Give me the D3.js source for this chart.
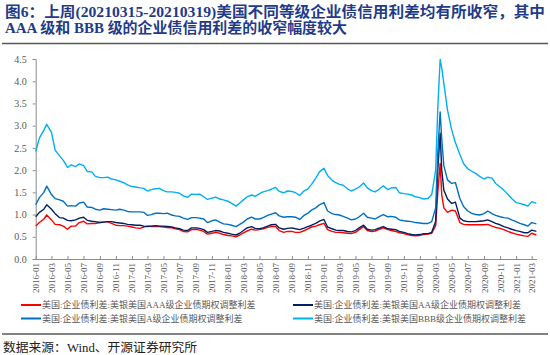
<!DOCTYPE html>
<html><head><meta charset="utf-8">
<script src="https://cdn.jsdelivr.net/npm/d3@7"></script>
<style>
body{margin:0;background:#fff;}
svg{display:block;}
</style></head>
<body>
<script>
// ---- data ----
const dates = [
 "2016-01-01","2016-01-15","2016-02-01","2016-02-12","2016-03-01","2016-03-15","2016-04-01","2016-04-15","2016-05-01","2016-05-15","2016-06-01","2016-06-15","2016-07-01","2016-07-15","2016-08-01","2016-08-15","2016-09-01","2016-09-15","2016-10-01","2016-10-15","2016-11-01","2016-11-15","2016-12-01","2016-12-15",
 "2017-01-01","2017-01-15","2017-02-01","2017-02-15","2017-03-01","2017-03-15","2017-04-01","2017-04-15","2017-05-01","2017-05-15","2017-06-01","2017-06-15","2017-07-01","2017-07-15","2017-08-01","2017-08-15","2017-09-01","2017-09-15","2017-10-01","2017-10-15","2017-11-01","2017-11-15","2017-12-01","2017-12-15",
 "2018-01-01","2018-01-15","2018-02-01","2018-02-15","2018-03-01","2018-03-15","2018-04-01","2018-04-15","2018-05-01","2018-05-15","2018-06-01","2018-06-15","2018-07-01","2018-07-15","2018-08-01","2018-08-15","2018-09-01","2018-09-15","2018-10-01","2018-10-15","2018-11-01","2018-11-15","2018-12-01","2018-12-15",
 "2019-01-01","2019-01-15","2019-02-01","2019-02-15","2019-03-01","2019-03-15","2019-04-01","2019-04-15","2019-05-01","2019-05-15","2019-06-01","2019-06-15","2019-07-01","2019-07-15","2019-08-01","2019-08-15","2019-09-01","2019-09-15","2019-10-01","2019-10-15","2019-11-01","2019-11-15","2019-12-01","2019-12-15",
 "2020-01-01","2020-01-15","2020-02-01","2020-02-15","2020-03-01","2020-03-09","2020-03-18","2020-03-24","2020-04-01","2020-04-15","2020-05-01","2020-05-15","2020-06-01","2020-06-15","2020-07-01","2020-07-15","2020-08-01","2020-08-15","2020-09-01","2020-09-15","2020-10-01","2020-10-15","2020-11-01","2020-11-15","2020-12-01","2020-12-15",
 "2021-01-01","2021-01-15","2021-02-01","2021-02-15","2021-03-01","2021-03-19"
];
const aaa = [
 0.74,0.82,0.90,0.99,0.88,0.78,0.77,0.74,0.67,0.74,0.74,0.82,0.85,0.79,0.80,0.80,0.82,0.83,0.84,0.80,0.76,0.75,0.75,0.74,
 0.72,0.70,0.69,0.72,0.74,0.73,0.73,0.73,0.72,0.71,0.70,0.68,0.66,0.62,0.61,0.66,0.67,0.65,0.62,0.56,0.58,0.60,0.58,0.55,
 0.53,0.52,0.50,0.54,0.59,0.63,0.67,0.65,0.66,0.68,0.71,0.73,0.73,0.64,0.60,0.62,0.62,0.60,0.60,0.63,0.68,0.72,0.74,0.77,
 0.80,0.66,0.62,0.60,0.60,0.59,0.58,0.57,0.60,0.66,0.73,0.64,0.62,0.63,0.67,0.70,0.66,0.64,0.62,0.59,0.57,0.55,0.53,0.52,
 0.53,0.55,0.56,0.58,0.75,1.50,2.15,1.45,1.15,1.05,1.10,1.08,0.82,0.78,0.77,0.77,0.77,0.77,0.77,0.78,0.74,0.71,0.69,0.66,0.62,0.59,
 0.56,0.54,0.52,0.51,0.58,0.54
];
const aa = [
 0.95,1.05,1.12,1.22,1.12,1.02,0.93,0.92,0.87,0.86,0.88,0.92,0.94,0.87,0.85,0.84,0.82,0.83,0.84,0.84,0.82,0.81,0.80,0.78,
 0.77,0.76,0.76,0.74,0.73,0.74,0.75,0.74,0.74,0.73,0.72,0.70,0.68,0.65,0.64,0.70,0.70,0.69,0.66,0.60,0.62,0.64,0.63,0.60,
 0.58,0.56,0.54,0.58,0.64,0.70,0.73,0.69,0.68,0.70,0.74,0.77,0.78,0.70,0.67,0.69,0.70,0.68,0.66,0.69,0.73,0.76,0.80,0.85,
 0.89,0.72,0.68,0.65,0.64,0.64,0.62,0.61,0.64,0.70,0.76,0.67,0.65,0.66,0.70,0.73,0.68,0.67,0.66,0.62,0.60,0.57,0.55,0.54,
 0.55,0.57,0.57,0.60,0.85,2.00,2.83,2.00,1.55,1.35,1.25,1.28,0.92,0.86,0.84,0.84,0.84,0.85,0.86,0.88,0.84,0.80,0.77,0.73,0.70,0.67,
 0.64,0.62,0.59,0.59,0.65,0.62
];
const a = [
 1.22,1.38,1.50,1.64,1.45,1.36,1.33,1.30,1.19,1.20,1.19,1.26,1.28,1.17,1.16,1.12,1.10,1.13,1.12,1.11,1.10,1.12,1.10,1.07,
 1.06,1.06,1.06,1.05,0.98,1.00,1.03,1.03,1.02,1.03,0.99,0.97,0.96,0.92,0.89,0.93,0.93,0.92,0.90,0.82,0.86,0.88,0.83,0.79,
 0.78,0.76,0.73,0.78,0.83,0.90,0.94,0.90,0.90,0.93,0.98,1.01,1.04,0.97,0.94,0.95,0.95,0.94,0.89,0.97,1.03,1.10,1.15,1.22,
 1.27,1.08,1.02,1.00,0.99,0.96,0.92,0.88,0.90,0.95,1.03,0.94,0.92,0.90,0.96,1.00,0.95,0.96,0.94,0.88,0.86,0.85,0.84,0.82,
 0.81,0.80,0.80,0.84,1.15,2.40,3.31,2.70,2.10,1.78,1.70,1.72,1.36,1.18,1.08,1.03,1.00,0.99,1.02,1.08,1.02,0.98,0.95,0.93,0.92,0.88,
 0.84,0.80,0.77,0.74,0.82,0.79
];
const bbb = [
 2.42,2.72,2.90,3.03,2.85,2.45,2.32,2.22,2.06,2.12,2.08,2.14,2.10,1.97,1.96,1.86,1.83,1.83,1.84,1.80,1.78,1.75,1.72,1.67,
 1.63,1.62,1.60,1.59,1.53,1.56,1.58,1.59,1.54,1.51,1.51,1.50,1.48,1.42,1.39,1.46,1.45,1.46,1.40,1.34,1.37,1.39,1.35,1.33,
 1.30,1.25,1.19,1.26,1.33,1.40,1.44,1.41,1.47,1.51,1.54,1.57,1.61,1.52,1.49,1.53,1.52,1.49,1.43,1.52,1.58,1.68,1.82,1.96,
 2.04,1.88,1.77,1.72,1.68,1.66,1.58,1.53,1.57,1.62,1.71,1.60,1.54,1.51,1.58,1.65,1.56,1.60,1.61,1.49,1.47,1.46,1.44,1.40,
 1.38,1.35,1.36,1.45,2.00,3.40,4.49,4.30,3.95,3.35,2.90,2.62,2.35,2.15,2.03,1.98,1.92,1.86,1.80,1.84,1.82,1.70,1.62,1.55,1.45,1.36,
 1.27,1.25,1.22,1.19,1.29,1.25
];
const seriesNames = [
 "美国:企业债利差:美银美国AAA级企业债期权调整利差",
 "美国:企业债利差:美银美国AA级企业债期权调整利差",
 "美国:企业债利差:美银美国A级企业债期权调整利差",
 "美国:企业债利差:美银美国BBB级企业债期权调整利差"
];
const yTicks = [0,0.5,1.0,1.5,2.0,2.5,3.0,3.5,4.0,4.5];
const titleLines = ["图6：上周(20210315-20210319)美国不同等级企业债信用利差均有所收窄，其中",
                    "AAA 级和 BBB 级的企业债信用利差的收窄幅度较大"];
const sourceText = "数据来源：Wind、开源证券研究所";

// ---- drawing ----
const W = 550, H = 355;
const colors = ["#FF0000", "#002060", "#0070C0", "#00B0F0"];
const valueSets = [aaa, aa, a, bbb];
const FONT = "'Liberation Serif','Noto Sans CJK SC',serif";
const parse = d3.timeParse("%Y-%m-%d");
const dts = dates.map(parse);

const svg = d3.select("body").append("svg").attr("width", W).attr("height", H);

// title
svg.append("text").attr("x", 5).attr("y", 17)
  .attr("font-family", FONT).attr("font-weight", "bold").attr("font-size", 14.5)
  .attr("fill", "#1F3C88").attr("textLength", 540).attr("lengthAdjust", "spacingAndGlyphs")
  .text(titleLines[0]);
svg.append("text").attr("x", 5).attr("y", 32.5)
  .attr("font-family", FONT).attr("font-weight", "bold").attr("font-size", 14.5)
  .attr("fill", "#1F3C88").attr("textLength", 342).attr("lengthAdjust", "spacingAndGlyphs")
  .text(titleLines[1]);
svg.append("line").attr("x1", 2).attr("x2", 548).attr("y1", 43.5).attr("y2", 43.5)
  .attr("stroke", "#595959").attr("stroke-width", 1.6);

// scales
const x = d3.scaleTime().domain([parse("2016-01-01"), parse("2021-03-19")]).range([35.7, 536.4]);
const y = d3.scaleLinear().domain([0, 4.5]).range([259, 59]);

// y axis
const yAxis = d3.axisLeft(y).tickValues(yTicks).tickFormat(d3.format(".1f")).tickSize(3).tickPadding(6);
const gy = svg.append("g").attr("transform", "translate(35.7,0)").call(yAxis);
gy.select(".domain").attr("stroke", "#8c8c8c");
gy.selectAll(".tick line").attr("stroke", "#8c8c8c");
gy.selectAll(".tick text").attr("font-family", FONT).attr("font-size", 10).attr("fill", "#595959");

// x axis
const xTicks = d3.timeMonth.every(2).range(parse("2016-01-01"), parse("2021-03-02"));
const xAxis = d3.axisBottom(x).tickValues(xTicks).tickFormat(d3.timeFormat("%Y-%m")).tickSize(-3).tickSizeOuter(0);
const gx = svg.append("g").attr("transform", "translate(0,259)").call(xAxis);
gx.select(".domain").attr("stroke", "#8c8c8c");
gx.selectAll(".tick line").attr("stroke", "#8c8c8c");
gx.selectAll(".tick text")
  .attr("font-family", FONT).attr("font-size", 9).attr("fill", "#595959")
  .attr("text-anchor", "end").attr("transform", "rotate(-90)")
  .attr("x", -4).attr("y", 0).attr("dy", "0.33em");

// lines
const line = d3.line().x((d, i) => x(dts[i])).y(d => y(d));
valueSets.forEach((vals, k) => {
  svg.append("path").datum(vals).attr("d", line)
    .attr("fill", "none").attr("stroke", colors[k]).attr("stroke-width", 1.4)
    .attr("stroke-linejoin", "round");
});

// legend
const legendPos = [[21, 305], [293, 305], [21, 318.5], [293, 318.5]];
seriesNames.forEach((name, k) => {
  const [lx, ly] = legendPos[k];
  svg.append("line").attr("x1", lx).attr("x2", lx + 20).attr("y1", ly).attr("y2", ly)
    .attr("stroke", colors[k]).attr("stroke-width", 2);
  svg.append("text").attr("x", lx + 21).attr("y", ly).attr("dy", "0.35em")
    .attr("font-family", FONT).attr("font-size", 9).attr("fill", "#595959").text(name);
});

// bottom separator & source
svg.append("line").attr("x1", 2).attr("x2", 548).attr("y1", 334).attr("y2", 334)
  .attr("stroke", "#595959").attr("stroke-width", 1.4);
svg.append("text").attr("x", 3).attr("y", 351.5)
  .attr("font-family", FONT).attr("font-size", 12.5).attr("fill", "#222")
  .attr("textLength", 194).attr("lengthAdjust", "spacingAndGlyphs").text(sourceText);
</script>
</body></html>
